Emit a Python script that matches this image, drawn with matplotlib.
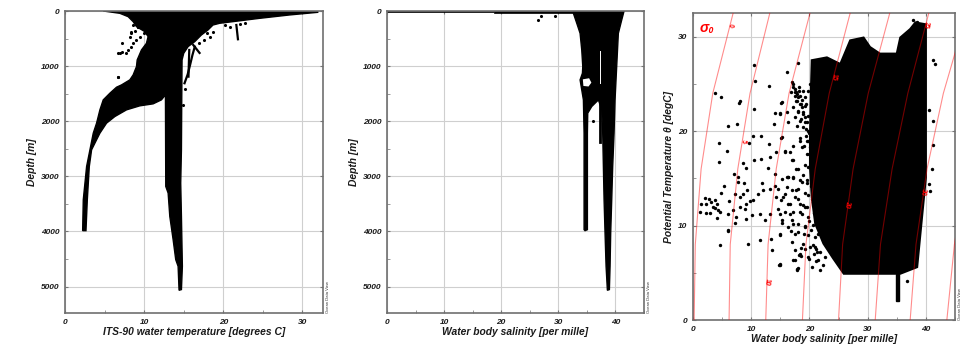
import matplotlib
matplotlib.use('Agg')
import matplotlib.pyplot as plt
from matplotlib.ticker import AutoMinorLocator

plt.rcParams['font.family'] = ['Liberation Sans', 'DejaVu Sans']

# ---------------- data ----------------
# panel 1: outline of the temperature/depth point cloud
temp_body_T = [4.83, 31.93, 31.93, 28.36, 24.58, 21.22, 19.54, 18.70, 18.07, 17.23, 16.39, 15.55,
               15.00, 14.79, 14.75, 14.71, 14.62, 14.71, 14.79, 14.83, 14.71, 14.41, 14.29, 13.99,
               13.66, 13.24, 13.03, 12.73, 12.69, 12.18, 11.13, 9.45, 7.77, 6.30, 5.25, 4.41,
               3.99, 3.36, 3.07, 2.82, 2.65, 2.23, 2.31, 2.73, 3.15, 3.57, 3.99, 4.20, 4.41,
               4.83, 5.67, 6.51, 7.14, 8.19, 8.61, 9.03, 9.12, 9.66, 10.29, 10.50, 10.08, 9.03,
               8.61, 7.98, 6.93]
temp_body_D = [0, 0, 24, 72, 133, 193, 223, 254, 344, 435, 556, 646,
               767, 888, 1613, 2519, 3123, 3727, 4331, 4633, 5055, 5068, 4633, 4512,
               4149, 3727, 3304, 3183, 1522, 1613, 1685, 1721, 1794, 1915, 2035, 2217,
               2337, 2519, 2821, 3425, 3986, 3986, 3425, 2821, 2519, 2217, 2035, 1915, 1794,
               1613, 1492, 1383, 1341, 1250, 1160, 1009, 888, 707, 586, 465, 374, 284,
               193, 103, 42]
temp_out_T = [7.69, 7.98, 8.28, 8.61, 9.03, 9.45, 9.96, 10.29, 6.72, 7.14, 8.40, 8.82, 9.24,
              8.60, 6.72, 9.45, 20.2, 20.8, 18.7, 18.3, 17.9, 17.5, 16.9, 22.1, 22.7, 8.4,
              9.25, 7.15, 6.94, 6.73, 8.2, 15.2, 14.9]
temp_out_D = [767, 707, 646, 586, 525, 465, 405, 374, 767, 737, 405, 356, 284,
              254, 1190, 133, 254, 284, 375, 466, 405, 526, 586, 236, 224, 375,
              284, 586, 767, 1191, 466, 1420, 1700]
trace1_T = [16.4, 16.1, 15.8, 15.5, 15.1]
trace1_D = [647, 800, 980, 1150, 1311]
trace2_T = [15.7, 15.65, 15.6]
trace2_D = [707, 950, 1191]
trace3_T = [16.2, 17.0]
trace3_D = [616, 761]
trace4_T = [21.65, 21.85]
trace4_D = [254, 513]

# panel 2: outline of the salinity/depth point cloud
sal_body_S = [32.65, 41.52, 41.11, 40.52, 40.23, 39.94, 39.77, 39.53, 39.36, 39.18, 39.07, 38.95,
              38.60, 38.37, 38.19, 38.02, 37.90, 37.78, 37.61, 37.03, 35.86, 35.16, 35.10, 35.10,
              34.69, 34.52, 34.52, 34.52, 34.40, 34.11, 33.82, 34.23, 34.29, 34.11, 33.82, 33.24,
              32.65]
sal_body_D = [0, 0, 163, 405, 1009, 1613, 2217, 2821, 3425, 4029, 4633, 5055,
              5068, 4633, 4029, 3425, 2821, 2217, 1794, 1613, 1733, 1854, 2217, 3968,
              3986, 3968, 2821, 2217, 1613, 1431, 1250, 1129, 1009, 707, 405, 223,
              42]
sal_hole_S = [34.3, 35.4, 35.8, 35.3, 34.4]
sal_hole_D = [1240, 1220, 1300, 1370, 1360]
sal_surface_S = [0, 32.7, 32.7, 18.7, 18.7, 0]
sal_surface_D = [0, 0, 40, 40, 22, 22]
sal_line_S = [37.3, 37.3]
sal_line_D = [1300, 2370]
sal_gap_D = [725, 1300]
sal_out_S = [26.5, 26.9, 29.5, 36.15]
sal_out_D = [163, 91, 91, 2005]

# panel 3: T-S diagram, dense block outline plus single points
ts_block_S = [20.4, 23.0, 25.3, 27.0, 29.3, 30.4, 32.1, 35.0, 35.6, 37.3, 38.2, 40.0,
              40.0, 38.5, 35.6, 25.9, 24.1, 22.4, 21.0, 20.4, 20.1, 20.1, 20.2]
ts_block_T = [27.5, 27.8, 27.1, 29.6, 29.9, 28.9, 28.2, 28.2, 29.9, 30.8, 31.5, 31.3,
              15.1, 5.6, 4.9, 4.9, 6.5, 8.1, 10.2, 13.0, 16.2, 19.3, 22.9]
ts_spike_S = [34.9, 34.9, 35.4, 35.4]
ts_spike_T = [4.9, 2.0, 2.0, 4.9]
ts_pts_S = [10.49, 3.72, 4.87, 10.72, 13.07, 8.02, 7.91, 10.43, 16.22, 18.05, 15.13, 14.04,
            15.01, 13.87, 6.02, 7.62, 4.47, 10.32, 11.75, 9.63, 5.85, 4.47, 8.60, 10.49,
            11.75, 13.07, 14.21, 13.30, 15.19, 15.76, 12.89, 9.17, 17.08, 18.45, 17.77, 16.22,
            17.19, 14.04, 7.74,
            17.19, 17.48, 17.77, 18.22, 18.45, 18.91, 19.20, 17.88, 18.62, 19.48, 17.19, 18.05,
            18.91, 19.77, 17.48, 18.34, 19.20, 17.88, 19.48, 16.91, 19.77, 20.06,
            7.05, 5.33, 4.87, 2.75, 2.29, 3.15, 3.72, 4.13, 3.44, 2.18, 2.87, 4.30,
            4.70, 4.13, 3.72, 6.19, 7.16, 8.02, 8.60, 9.34, 8.71, 7.74, 6.88, 8.02,
            8.88, 9.17, 9.74, 10.32, 11.17, 12.03, 11.92, 13.18, 14.04, 14.33, 15.19, 15.76,
            16.33, 17.19, 18.34, 17.77, 19.20, 16.62, 18.05, 18.91, 6.02, 7.45, 9.17, 10.20,
            11.46, 12.32, 13.18, 14.90, 16.62, 18.34, 7.28, 6.07, 4.58, 9.51, 11.46, 13.35,
            13.64, 14.90, 15.36, 16.91, 17.19, 18.05, 17.48, 17.19, 18.22, 14.90, 17.94, 18.91,
            19.77, 20.06, 21.2, 20.6, 21.8, 18.6,
            1.15, 1.4, 2.0, 6.0, 14.8, 18.1,
            20.5, 21.0, 20.2, 19.8, 20.6, 19.5, 20.8, 20.0, 19.2, 20.3, 21.0, 20.7,
            19.9, 21.2, 20.4, 21.8, 22.4, 19.0, 18.6, 19.6, 18.9, 19.3, 19.9, 18.7,
            19.6, 20.0,
            41.3, 41.6, 40.5, 41.3, 41.3, 41.0, 40.5, 40.7, 36.7, 37.8, 38.4,
            16.97, 17.25, 17.54, 17.82, 18.11, 17.65, 18.40, 18.68, 18.11, 18.97, 19.26, 18.57,
            19.54, 18.97, 19.83, 19.37, 19.83, 19.14, 20.12, 19.54, 20.29, 19.83, 20.40, 17.54,
            18.23, 18.80, 19.26,
            15.25, 16.11, 14.96, 16.39, 15.25, 16.68, 15.82, 18.40, 17.25, 18.11, 17.25, 16.39,
            15.25, 16.11, 14.67, 16.97, 18.11, 18.68, 19.54, 17.54, 15.53, 16.39, 18.40, 19.26,
            20.40, 14.67, 15.82, 17.25, 18.68, 19.83, 20.98, 15.25, 16.97, 18.11, 19.26, 20.69,
            22.12, 21.55, 22.70, 23.84, 22.41, 23.27, 24.13, 20.98, 19.26, 18.40, 17.54, 19.83,
            21.26, 16.39, 17.54, 14.96, 16.97, 17.82, 14.96, 21.55, 22.70]
ts_pts_T = [27.03, 24.04, 23.65, 25.27, 24.78, 23.23, 23.02, 22.35, 26.22, 27.17, 22.98, 21.96,
            21.96, 20.70, 20.56, 20.70, 18.72, 19.46, 19.46, 18.72, 17.84, 16.68, 16.61, 16.89,
            17.03, 18.65, 17.77, 17.25, 19.29, 17.88, 16.12, 16.12, 16.89, 19.29, 16.01, 15.13,
            15.13, 15.42, 15.13,
            24.99, 24.46, 24.11, 24.64, 23.76, 24.29, 23.58, 23.23, 22.88, 22.88, 22.53, 22.00,
            21.82, 21.65, 21.47, 21.12, 20.94, 20.59, 20.24, 24.11, 24.29, 24.99,
            15.49, 14.19, 13.48, 12.85, 12.32, 12.50, 12.74, 12.32, 11.97, 11.34, 11.34, 11.62,
            11.40, 10.84, 11.90, 12.60, 13.38, 13.02, 13.38, 13.73, 14.50, 14.61, 11.62, 11.97,
            11.72, 12.32, 12.60, 12.67, 13.31, 13.73, 14.50, 13.90, 14.15, 13.02, 12.74, 13.31,
            15.14, 15.07, 14.85, 13.73, 13.45, 12.32, 12.85, 12.14, 11.26, 10.91, 10.74, 11.09,
            11.26, 10.63, 11.26, 11.26, 11.26, 11.44, 10.28, 9.43, 7.96, 8.10, 8.45, 8.62,
            7.39, 9.05, 10.31, 9.40, 10.21, 9.33, 7.39, 6.34, 6.83, 5.84, 5.35, 8.10,
            8.98, 7.74, 7.57, 7.9, 7.2, 6.8,
            11.4, 12.3, 12.9, 9.5, 5.8, 5.5,
            15.5, 14.8, 14.2, 13.2, 12.5, 12.0, 11.3, 10.5, 10.0, 9.5, 8.8, 7.0,
            6.5, 6.2, 5.6, 5.3, 5.8, 9.1, 7.6, 14.5, 15.3, 16.4, 17.6, 18.3,
            18.9, 19.8,
            27.5, 27.1, 22.2, 21.1, 18.5, 16.0, 14.4, 13.7, 4.1, 31.8, 31.5,
            25.16, 24.63, 24.11, 23.93, 23.58, 23.23, 22.87, 22.52, 22.17, 21.99, 21.47, 21.29,
            20.94, 20.41, 20.06, 19.53, 19.00, 18.47, 18.30, 17.59, 16.89, 16.19, 15.66, 23.75,
            24.28, 23.30, 22.70,
            23.05, 21.99, 21.82, 20.94, 19.35, 17.77, 17.77, 19.00, 18.47, 16.01, 16.89, 15.13,
            14.95, 14.07, 13.90, 13.72, 13.90, 14.60, 14.78, 13.02, 13.02, 12.31, 12.31, 11.96,
            12.84, 11.79, 11.43, 11.43, 11.26, 10.91, 11.43, 10.55, 10.55, 10.20, 9.85, 10.03,
            10.20, 9.15, 9.50, 9.85, 8.44, 7.74, 8.09, 7.74, 7.56, 7.03, 6.33, 6.68,
            7.21, 9.85, 9.15, 9.15, 8.27, 5.27, 5.98, 6.33, 6.68]

# sigma-0 isolines: salinity where each line crosses the temperatures below
iso_T = [0, 8, 16, 24, 32.5]
iso_S = {
    0: [0.2, 0.4, 1.4, 3.4, 6.9],
    5: [6.2, 6.4, 7.7, 9.8, 13.2],
    10: [12.5, 12.9, 14.3, 16.5, 20.1],
    15: [18.8, 19.4, 21.0, 23.4, 27.0],
    20: [25.0, 25.7, 27.5, 30.1, 33.8],
    25: [31.3, 32.2, 34.2, 36.9, 40.5],
    30: [37.3, 38.3, 40.2, 43.0, 47.0],
    35: [43.6, 44.9, 47.0, 50.0, 54.0],
}
iso_lbl_text = ['0', '5', '10', '15', '20', '25', '30']
iso_lbl_S = [6.4, 8.6, 12.7, 24.1, 26.5, 39.9, 39.5]
iso_lbl_T = [31.2, 19.0, 4.0, 25.8, 12.2, 31.2, 13.6]

# ---------------- figure ----------------
fig = plt.figure(figsize=(9.73, 3.46), dpi=100)
ax1 = fig.add_axes([0.0668, 0.0954, 0.2652, 0.8728])
ax2 = fig.add_axes([0.3977, 0.0954, 0.2641, 0.8728])
ax3 = fig.add_axes([0.7122, 0.0751, 0.2693, 0.8873])


def style(ax, xticks, yticks, xlabel, ylabel):
    ax.set_xticks(xticks)
    ax.set_yticks(yticks)
    ax.xaxis.set_minor_locator(AutoMinorLocator(2))
    ax.yaxis.set_minor_locator(AutoMinorLocator(2))
    ax.grid(True, which='major', color='#cfcfcf', lw=0.8)
    ax.set_axisbelow(True)
    for sp in ax.spines.values():
        sp.set_color('#6f6f6f')
        sp.set_linewidth(1.2)
    ax.tick_params(which='major', direction='in', length=2, color='#777777',
                   labelsize=6.0, pad=4, top=True, right=True)
    ax.tick_params(which='minor', direction='in', length=2, width=0.6, color='#888888')
    for lbl in ax.get_xticklabels() + ax.get_yticklabels():
        lbl.set_fontweight('bold')
        lbl.set_fontstyle('italic')
        lbl.set_color('#1a1a1a')
    ax.set_xlabel(xlabel, fontsize=7.4, fontweight='bold', fontstyle='italic',
                  color='#1a1a1a', labelpad=1)
    ax.set_ylabel(ylabel, fontsize=7.4, fontweight='bold', fontstyle='italic',
                  color='#1a1a1a', labelpad=3)
    ax.text(1.012, 0.0, 'Ocean Data View', transform=ax.transAxes, rotation=90,
            fontsize=3.0, ha='left', va='bottom', color='#333333')


# panel 1
ax1.fill(temp_body_T, temp_body_D, color='black', lw=1.0, zorder=2)
for tx, ty in [(trace1_T, trace1_D), (trace2_T, trace2_D), (trace3_T, trace3_D), (trace4_T, trace4_D)]:
    ax1.plot(tx, ty, color='black', lw=1.6, zorder=2)
ax1.scatter(temp_out_T, temp_out_D, s=5, color='black', lw=0, zorder=2)
ax1.set_xlim(0, 32.6)
ax1.set_ylim(5480, 0)
style(ax1, [0, 10, 20, 30], [0, 1000, 2000, 3000, 4000, 5000],
      'ITS-90 water temperature [degrees C]', 'Depth [m]')

# panel 2
ax2.fill(sal_body_S, sal_body_D, color='black', lw=1.0, zorder=2)
ax2.fill(sal_hole_S, sal_hole_D, color='white', lw=0, zorder=3)
ax2.fill(sal_surface_S, sal_surface_D, color='black', lw=0.5, zorder=2)
ax2.plot(sal_line_S, sal_line_D, color='black', lw=2.0, zorder=2)
ax2.plot(sal_line_S, sal_gap_D, color='white', lw=0.7, zorder=3)
ax2.scatter(sal_out_S, sal_out_D, s=5, color='black', lw=0, zorder=2)
ax2.set_xlim(0, 45)
ax2.set_ylim(5480, 0)
style(ax2, [0, 10, 20, 30, 40], [0, 1000, 2000, 3000, 4000, 5000],
      'Water body salinity [per mille]', 'Depth [m]')

# panel 3
ax3.fill(ts_block_S, ts_block_T, color='black', lw=1.5, zorder=2)
ax3.fill(ts_spike_S, ts_spike_T, color='black', lw=1.0, zorder=2)
ax3.scatter(ts_pts_S, ts_pts_T, s=6, color='black', lw=0, zorder=2)
for level, svals in iso_S.items():
    ax3.plot(svals, iso_T, color='red', alpha=0.45, lw=0.8, zorder=3)
for txt, xs, ys in zip(iso_lbl_text, iso_lbl_S, iso_lbl_T):
    ax3.text(xs, ys, txt, color='red', fontsize=4.8, fontweight='bold', rotation=-98,
             ha='center', va='center', zorder=4)
ax3.text(0.025, 0.975, 'σ₀', transform=ax3.transAxes, color='red', fontsize=10,
         fontweight='bold', fontstyle='italic', ha='left', va='top', zorder=4)
ax3.set_xlim(0, 45)
ax3.set_ylim(0, 32.5)
style(ax3, [0, 10, 20, 30, 40], [0, 10, 20, 30],
      'Water body salinity [per mille]', 'Potential Temperature θ [degC]')

fig.savefig('out.png', dpi=100, facecolor='white')
